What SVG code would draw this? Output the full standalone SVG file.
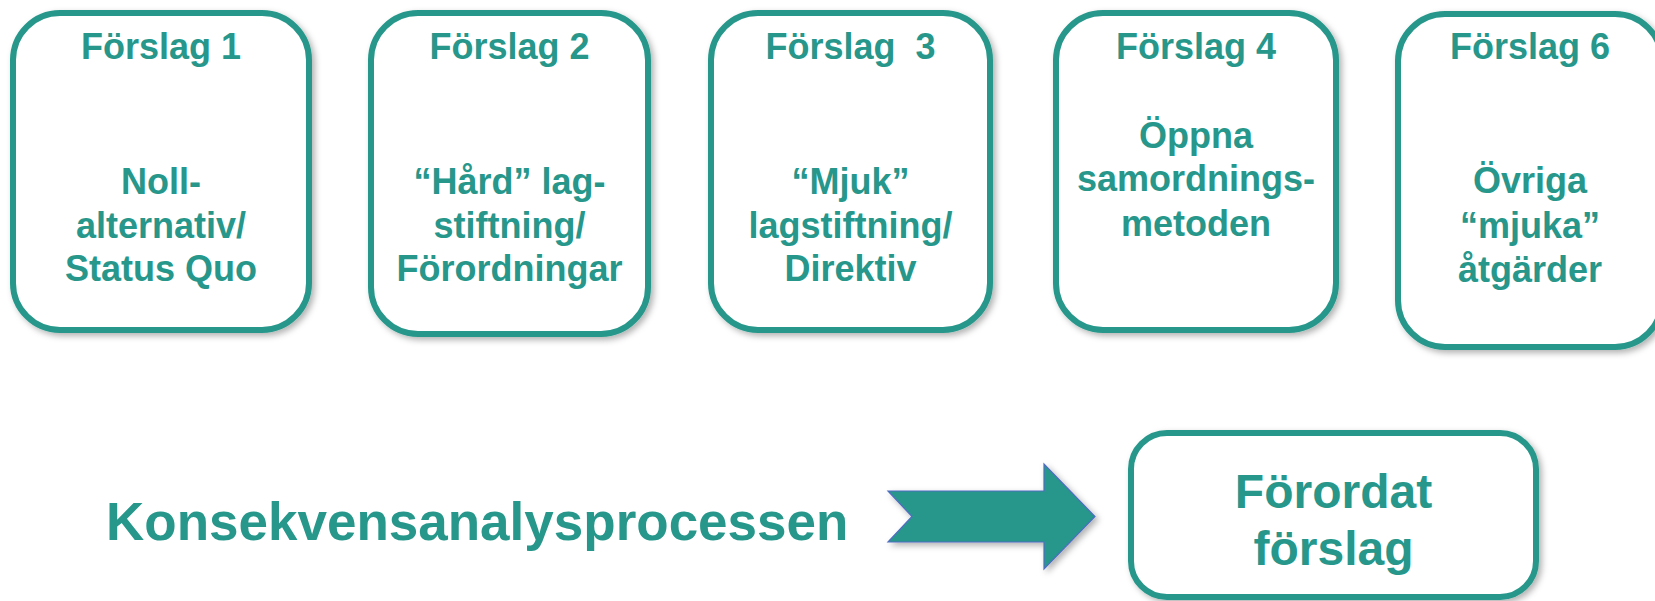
<svg xmlns="http://www.w3.org/2000/svg" width="1655" height="601" viewBox="0 0 1655 601">
<style>
.box{fill:#fff;stroke:#26978A;stroke-width:6;filter:url(#sh)}
.t{font-family:"Liberation Sans",Arial,sans-serif;font-weight:bold;fill:#26978A;text-anchor:middle;white-space:pre}
.s36{font-size:36px}
</style>
<defs>
<filter id="sh" x="-10%" y="-10%" width="130%" height="130%">
<feDropShadow dx="3" dy="3" stdDeviation="3" flood-color="#000" flood-opacity="0.3"/>
</filter>
</defs>
<rect width="1655" height="601" fill="#fff"/>
<g id="n1">
<rect class="box" x="13" y="13" width="296" height="317" rx="47"/>
<text class="t s36" x="161" y="59">Förslag 1</text>
<text class="t s36" x="161" y="194">Noll-</text>
<text class="t s36" x="161" y="238">alternativ/</text>
<text class="t s36" x="161" y="281">Status Quo</text>
</g>
<g id="n2">
<rect class="box" x="371" y="13" width="277" height="321" rx="47"/>
<text class="t s36" x="509.5" y="59">Förslag 2</text>
<text class="t s36" x="509.5" y="194">“Hård” lag-</text>
<text class="t s36" x="509.5" y="238">stiftning/</text>
<text class="t s36" x="509.5" y="281">Förordningar</text>
</g>
<g id="n3">
<rect class="box" x="711" y="13" width="279" height="317" rx="47"/>
<text class="t s36" x="850.5" y="59" xml:space="preserve">Förslag  3</text>
<text class="t s36" x="850.5" y="194">“Mjuk”</text>
<text class="t s36" x="850.5" y="238">lagstiftning/</text>
<text class="t s36" x="850.5" y="281">Direktiv</text>
</g>
<g id="n4">
<rect class="box" x="1056" y="13" width="280" height="317" rx="47"/>
<text class="t s36" x="1196" y="59">Förslag 4</text>
<text class="t s36" x="1196" y="148">Öppna</text>
<text class="t s36" x="1196" y="191">samordnings-</text>
<text class="t s36" x="1196" y="236">metoden</text>
</g>
<g id="n6">
<rect class="box" x="1398" y="14" width="264" height="333" rx="47"/>
<text class="t s36" x="1530" y="59">Förslag 6</text>
<text class="t s36" x="1530" y="193">Övriga</text>
<text class="t s36" x="1530" y="238">“mjuka”</text>
<text class="t s36" x="1530" y="282">åtgärder</text>
</g>
<g id="process">
<text class="t" x="106" y="540" style="font-size:53px;text-anchor:start">Konsekvensanalysprocessen</text>
</g>
<g id="connectors">
<path d="M888,491 L1044,491 L1044,464 L1095,516.5 L1044,569 L1044,542 L888,542 L912,516.5 Z" fill="#26978A" stroke="#4F6DC2" stroke-width="1.2" filter="url(#sh)"/>
</g>
<g id="result">
<rect class="box" x="1131" y="433" width="405" height="164" rx="36"/>
<text class="t" x="1333.5" y="508" style="font-size:48px">Förordat</text>
<text class="t" x="1333.5" y="565" style="font-size:48px">förslag</text>
</g>
</svg>
